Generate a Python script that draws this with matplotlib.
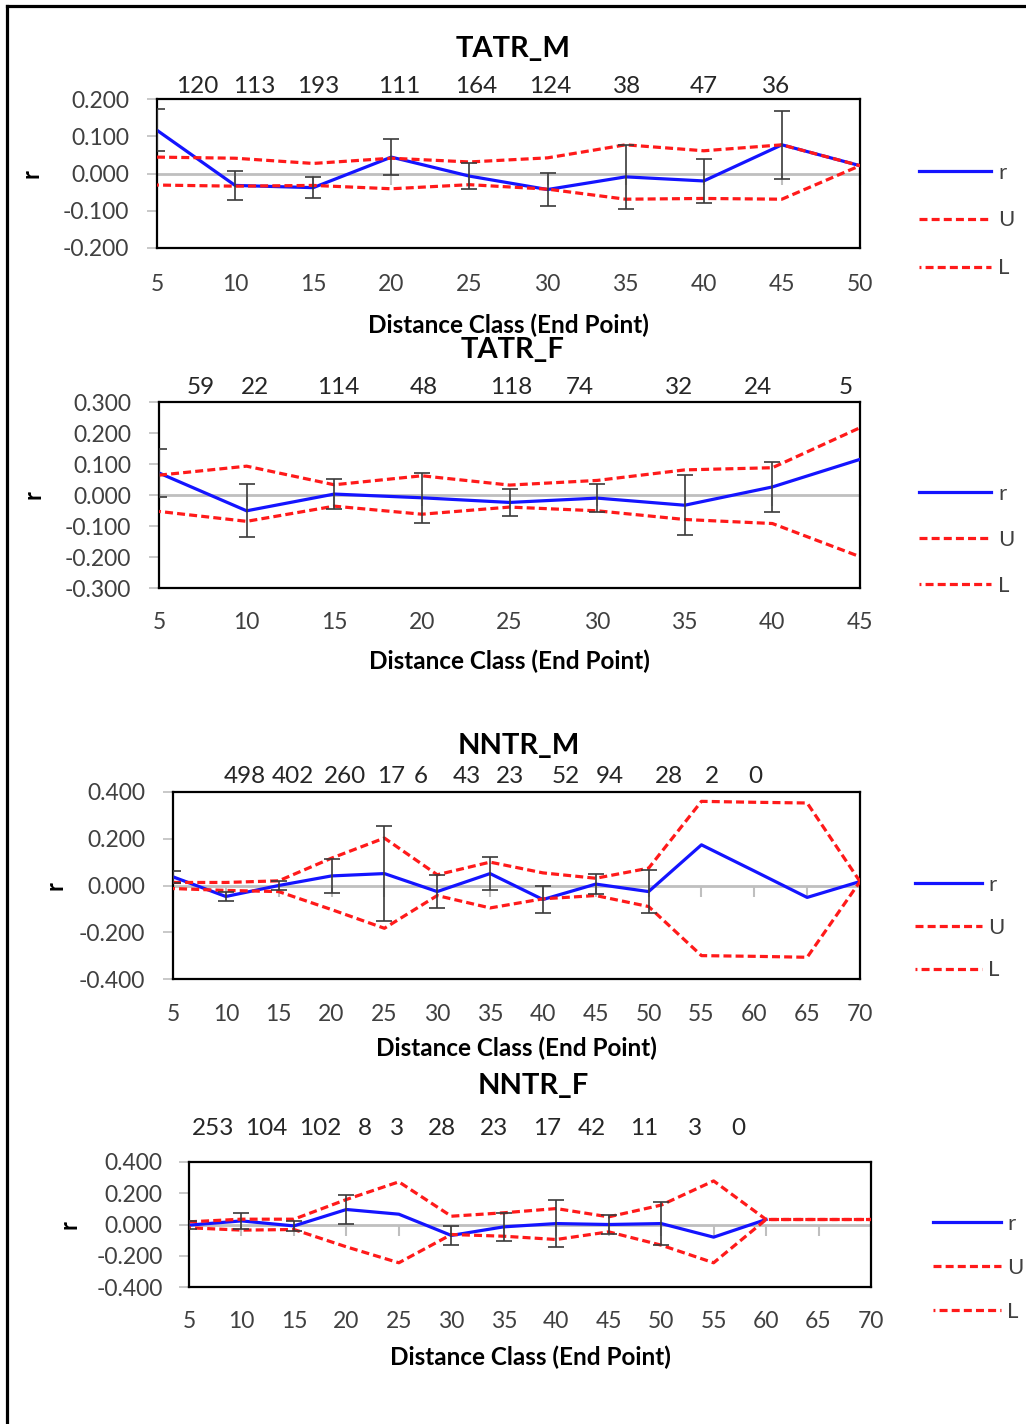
import numpy as np
import matplotlib.pyplot as plt
import matplotlib.transforms as mtransforms
from matplotlib.lines import Line2D
from matplotlib.markers import TICKDOWN
from matplotlib.ticker import FormatStrFormatter

plt.rcParams['font.family'] = ['Lato', 'DejaVu Sans']

W, H = 1026, 1424
nan = np.nan

# ---- TATR_M ----
tatr_m_dist = [5, 10, 15, 20, 25, 30, 35, 40, 45, 50]
tatr_m_r = [0.116, -0.032, -0.038, 0.044, -0.007, -0.043, -0.009, -0.020, 0.077, 0.021]
tatr_m_U = [0.044, 0.041, 0.027, 0.041, 0.031, 0.042, 0.077, 0.061, 0.077, 0.021]
tatr_m_L = [-0.031, -0.034, -0.032, -0.041, -0.030, -0.042, -0.069, -0.067, -0.069, 0.021]
tatr_m_err = [0.056, 0.040, 0.028, 0.049, 0.035, 0.045, 0.085, 0.059, 0.092, nan]
tatr_m_n = [120, 113, 193, 111, 164, 124, 38, 47, 36]

# ---- TATR_F ----
tatr_f_dist = [5, 10, 15, 20, 25, 30, 35, 40, 45]
tatr_f_r = [0.071, -0.051, 0.003, -0.009, -0.024, -0.010, -0.033, 0.026, 0.115]
tatr_f_U = [0.064, 0.093, 0.033, 0.062, 0.032, 0.047, 0.081, 0.088, 0.217]
tatr_f_L = [-0.053, -0.085, -0.036, -0.062, -0.039, -0.051, -0.079, -0.092, -0.199]
tatr_f_err = [0.079, 0.085, 0.048, 0.080, 0.043, 0.045, 0.096, 0.080, nan]
tatr_f_n = [59, 22, 114, 48, 118, 74, 32, 24, 5]

# ---- NNTR_M ----
nntr_m_dist = [5, 10, 15, 20, 25, 30, 35, 40, 45, 50, 55, 60, 65, 70]
nntr_m_r = [0.037, -0.047, 0.000, 0.041, 0.051, -0.026, 0.051, -0.060, 0.006, -0.026,
            0.174, 0.062, -0.051, 0.017]
nntr_m_U = [0.013, 0.013, 0.020, 0.117, 0.203, 0.046, 0.100, 0.054, 0.031, 0.074,
            0.360, 0.356, 0.353, 0.017]
nntr_m_L = [-0.013, -0.021, -0.026, -0.103, -0.183, -0.043, -0.096, -0.057, -0.043, -0.090,
            -0.300, -0.303, -0.307, 0.017]
nntr_m_err = [0.027, 0.021, 0.021, 0.072, 0.204, 0.070, 0.069, 0.057, 0.043, 0.091,
              nan, nan, nan, nan]
nntr_m_n = [498, 402, 260, 17, 6, 43, 23, 52, 94, 28, 2, 0]

# ---- NNTR_F ----
nntr_f_dist = [5, 10, 15, 20, 25, 30, 35, 40, 45, 50, 55, 60, 65, 70]
nntr_f_r = [-0.004, 0.023, -0.009, 0.096, 0.066, -0.070, -0.015, 0.006, 0.000, 0.006,
            -0.081, 0.032, nan, nan]
nntr_f_U = [0.017, 0.034, 0.034, 0.160, 0.273, 0.053, 0.075, 0.102, 0.049, 0.124,
            0.279, 0.032, 0.032, 0.032]
nntr_f_L = [-0.021, -0.036, -0.032, -0.143, -0.245, -0.064, -0.075, -0.096, -0.047, -0.132,
            -0.245, 0.032, 0.032, 0.032]
nntr_f_err = [0.025, 0.050, 0.034, 0.090, nan, 0.058, 0.088, 0.151, 0.063, 0.135,
              nan, nan, nan, nan]
nntr_f_n = [253, 104, 102, 8, 3, 28, 23, 17, 42, 11, 3, 0]

# where the pair-count text boxes sit along each distance axis
tatr_m_n_at = [7.6, 11.2, 15.3, 20.5, 25.4, 30.2, 35.1, 40.0, 44.6]
tatr_f_n_at = [7.4, 10.5, 15.2, 20.1, 25.1, 29.0, 34.7, 39.2, 44.2]
nntr_m_n_at = [11.8, 16.3, 21.3, 25.6, 28.4, 32.8, 36.9, 42.2, 46.3, 51.9, 56.0, 60.1]
nntr_f_n_at = [7.25, 12.4, 17.5, 21.8, 24.8, 29.1, 34.1, 39.1, 43.4, 48.4, 53.2, 57.4]

BLUE = '#1414ff'
RED = '#ff1a1a'
GREY = '#bfbfbf'
TXT = '#404040'

fig = plt.figure(figsize=(W / 100, H / 100), dpi=100)


def px_rect(left, top, right, bottom):
    return [left / W, 1 - bottom / H, (right - left) / W, (bottom - top) / H]


def panel(box, title, dist, r, U, L, err, n, n_at, ylim, ystep, lay):
    ax = fig.add_axes(px_rect(*box))
    dist = np.array(dist)
    r, U, L, err = (np.array(a, dtype=float) for a in (r, U, L, err))

    ax.axhline(0, color=GREY, lw=2, zorder=1)
    ax.plot(dist, np.zeros_like(dist), ls='none', marker=TICKDOWN, ms=8, mew=1.5,
            color=GREY, zorder=1, clip_on=False)

    lr, = ax.plot(dist, r, color=BLUE, lw=2.3, zorder=3)
    lu, = ax.plot(dist, U, color=RED, lw=2.3, ls=(0, (2.5, 1.3)), zorder=4)
    ll, = ax.plot(dist, L, color=RED, lw=2.3, ls=(1.9, (2.5, 1.3)), zorder=4)

    ok = ~np.isnan(err)
    ax.errorbar(dist[ok], r[ok], yerr=err[ok], fmt='none', ecolor='#3a3a3a',
                elinewidth=1.2, capsize=6, capthick=1.2, zorder=5)

    ax.set_xlim(dist[0], dist[-1])
    ax.set_ylim(-ylim, ylim)
    ax.set_yticks(np.arange(-ylim, ylim + ystep / 2, ystep))
    ax.yaxis.set_major_formatter(FormatStrFormatter('%.3f'))
    ax.set_xticks(dist)
    ax.set_xticklabels([str(d) for d in dist])
    ax.tick_params(axis='x', length=0, pad=lay['xpad'], labelsize=16.5, labelcolor=TXT)
    ax.tick_params(axis='y', length=7, width=1.2, color=GREY, pad=lay['ypad'],
                   labelsize=16.5, labelcolor=TXT)
    for s in ax.spines.values():
        s.set_color('black')
        s.set_linewidth(1.6)

    for val, x in zip(n, n_at):
        ax.annotate(str(val), xy=(x, 1), xycoords=('data', 'axes fraction'),
                    xytext=(0, lay['n_off']), textcoords='offset points',
                    ha='center', va='baseline', fontsize=17.5, color='#262626',
                    annotation_clip=False)

    ax.annotate(title, xy=(0.5, 1), xycoords='axes fraction',
                xytext=(lay['t_dx'], lay['t_off']), textcoords='offset points',
                ha='center', va='baseline', fontsize=21, fontweight='bold', color='black')

    ax.set_xlabel('Distance Class (End Point)', fontsize=17.5, fontweight='bold',
                  color='black')
    ax.xaxis.set_label_coords(0.5, 0, transform=mtransforms.offset_copy(
        ax.transAxes, fig=fig, y=-lay['xl_off'], units='dots'))
    ax.xaxis.label.set_va('top')

    ax.set_ylabel('r', fontsize=17, fontweight='bold', color='black')
    ax.yaxis.set_label_coords(lay['yl_x'] / W, 0.5,
                              transform=mtransforms.blended_transform_factory(
                                  fig.transFigure, ax.transAxes))

    ax.legend(handles=[lr, lu, ll], labels=['r', 'U', 'L'], loc='center left',
              bbox_to_anchor=(lay['leg'][0] / W, 1 - lay['leg'][1] / H),
              bbox_transform=fig.transFigure, frameon=False,
              handlelength=lay['hl'], handletextpad=0.3,
              labelspacing=lay['ls'], borderpad=0, borderaxespad=0,
              fontsize=16, labelcolor=TXT)
    return ax


panel((157, 99, 860, 248), 'TATR_M', tatr_m_dist, tatr_m_r, tatr_m_U, tatr_m_L,
      tatr_m_err, tatr_m_n, tatr_m_n_at, 0.2, 0.1,
      dict(xpad=19, ypad=13, n_off=4.3, t_off=30, t_dx=3, xl_off=66, yl_x=42,
           leg=(919, 220.5), hl=3.25, ls=1.25))

panel((159, 402, 860, 588), 'TATR_F', tatr_f_dist, tatr_f_r, tatr_f_U, tatr_f_L,
      tatr_f_err, tatr_f_n, tatr_f_n_at, 0.3, 0.1,
      dict(xpad=17.5, ypad=13, n_off=5.8, t_off=31.5, t_dx=2, xl_off=62, yl_x=44,
           leg=(919, 539.5), hl=3.25, ls=1.17))

panel((173, 792, 860, 979), 'NNTR_M', nntr_m_dist, nntr_m_r, nntr_m_U, nntr_m_L,
      nntr_m_err, nntr_m_n, nntr_m_n_at, 0.4, 0.2,
      dict(xpad=18, ypad=13, n_off=6.5, t_off=27, t_dx=2, xl_off=58, yl_x=66,
           leg=(915, 927.5), hl=3.0, ls=1.03))

panel((189, 1162, 871, 1287), 'NNTR_F', nntr_f_dist, nntr_f_r, nntr_f_U, nntr_f_L,
      nntr_f_err, nntr_f_n, nntr_f_n_at, 0.4, 0.2,
      dict(xpad=17.5, ypad=12, n_off=19.4, t_off=49, t_dx=2, xl_off=59, yl_x=80,
           leg=(933, 1267.5), hl=3.05, ls=1.08))

# page frame (top and left edges)
fig.add_artist(Line2D([7 / W, 1], [1 - 6 / H, 1 - 6 / H], transform=fig.transFigure,
                      color='black', lw=2.3))
fig.add_artist(Line2D([7 / W, 7 / W], [0, 1 - 6 / H], transform=fig.transFigure,
                      color='black', lw=2.3))

fig.savefig('out.png', dpi=100, facecolor='white')
